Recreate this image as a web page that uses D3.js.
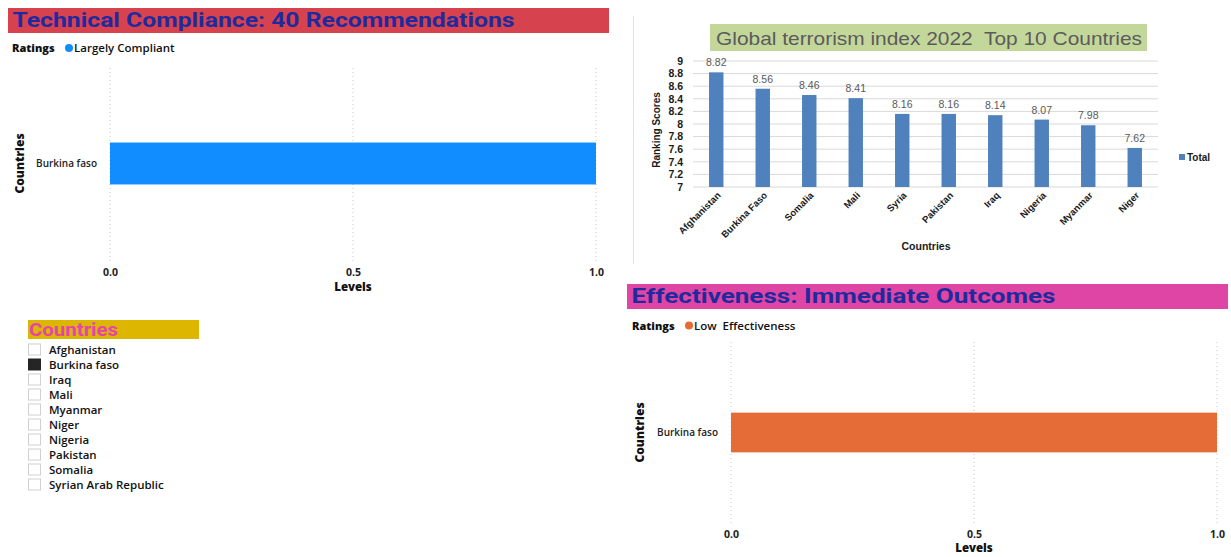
<!DOCTYPE html>
<html>
<head>
<meta charset="utf-8">
<script src="https://cdn.jsdelivr.net/npm/d3@7"></script>
<style>
  html, body { margin: 0; padding: 0; background: #fff; }
  svg { display: block; }
</style>
</head>
<body>
<svg id="chart" width="1231" height="557"></svg>
<script>
// ---------- DATA ----------
const gtiCountries = ["Afghanistan", "Burkina Faso", "Somalia", "Mali", "Syria", "Pakistan", "Iraq", "Nigeria", "Myanmar", "Niger"];
const gtiScores = [8.82, 8.56, 8.46, 8.41, 8.16, 8.16, 8.14, 8.07, 7.98, 7.62];
const gtiTicks = [7, 7.2, 7.4, 7.6, 7.8, 8, 8.2, 8.4, 8.6, 8.8, 9];

const tcCountries = ["Burkina faso"];
const tcLevels = [1];
const ioCountries = ["Burkina faso"];
const ioLevels = [1];
const levelTicks = [0, 0.5, 1];

const slicerCountries = ["Afghanistan", "Burkina faso", "Iraq", "Mali", "Myanmar", "Niger", "Nigeria", "Pakistan", "Somalia", "Syrian Arab Republic"];
const slicerSelected = ["Burkina faso"];

// ---------- DRAW ----------
const svg = d3.select("#chart");
const uiFont = "'Open Sans', 'Noto Sans', sans-serif";
const titleFont = "Roboto, 'Noto Sans', sans-serif";
const xlFont = "'Liberation Sans', 'DejaVu Sans', sans-serif";

function titleBar(x, y, w, h, fill, text, textLen) {
  svg.append("rect").attr("x", x).attr("y", y).attr("width", w).attr("height", h).attr("fill", fill);
  svg.append("text").attr("x", x + 4.5).attr("y", y + h - 6)
    .attr("font-family", titleFont).attr("font-weight", 700).attr("font-size", 21)
    .attr("fill", "#1f2a9e")
    .attr("textLength", textLen).attr("lengthAdjust", "spacingAndGlyphs")
    .text(text);
}

function ratingsLegend(x, y, color, label) {
  svg.append("text").attr("x", x).attr("y", y + 4)
    .attr("font-family", uiFont).attr("font-weight", 800).attr("font-size", 11)
    .attr("fill", "#111").text("Ratings");
  svg.append("circle").attr("cx", x + 57).attr("cy", y).attr("r", 4).attr("fill", color);
  svg.append("text").attr("x", x + 62).attr("y", y + 4)
    .attr("font-family", uiFont).attr("font-weight", 600).attr("font-size", 11.5)
    .attr("fill", "#111").style("white-space", "pre").text(label);
}

function levelBarChart(opts) {
  const { cats, vals, color, x0, x1, y0, y1, tickY, titleY, axisTitleX } = opts;
  const x = d3.scaleLinear().domain([0, 1]).range([x0, x1]);
  const y = d3.scaleBand().domain(cats).range([y0, y1]).paddingInner(0.64).paddingOuter(0.64);
  const g = svg.append("g");
  g.selectAll("line.grid").data(levelTicks).join("line")
    .attr("x1", d => x(d)).attr("x2", d => x(d))
    .attr("y1", y0).attr("y2", y1 + 3)
    .attr("stroke", "#c8c8c8").attr("stroke-width", 1).attr("stroke-dasharray", "1,3");
  g.selectAll("rect.bar").data(cats).join("rect")
    .attr("x", x(0)).attr("y", d => y(d))
    .attr("width", (d, i) => x(vals[i]) - x(0)).attr("height", y.bandwidth())
    .attr("fill", color);
  const xa = g.append("g").attr("transform", `translate(0,${tickY})`)
    .call(d3.axisBottom(x).tickValues(levelTicks).tickFormat(d3.format(".1f")).tickSize(0).tickPadding(0));
  xa.select(".domain").remove();
  xa.selectAll("text").attr("font-family", uiFont).attr("font-weight", 700)
    .attr("font-size", 10.5).attr("fill", "#222").attr("y", 0).attr("dy", "0.35em");
  const ya = g.append("g").attr("transform", `translate(${x0 - 10},0)`)
    .call(d3.axisLeft(y).tickSize(0));
  ya.select(".domain").remove();
  ya.selectAll("text").attr("font-family", uiFont).attr("font-weight", 600)
    .attr("font-size", 10).attr("fill", "#222");
  g.append("text").attr("x", (x0 + x1) / 2).attr("y", titleY)
    .attr("text-anchor", "middle").attr("font-family", uiFont).attr("font-weight", 800)
    .attr("font-size", 11.5).attr("fill", "#111").text("Levels");
  const cy = y(cats[0]) + y.bandwidth() / 2;
  g.append("text").attr("transform", `translate(${axisTitleX},${cy}) rotate(-90)`)
    .attr("text-anchor", "middle").attr("font-family", uiFont).attr("font-weight", 800)
    .attr("font-size", 12).attr("fill", "#111").text("Countries");
}

// ---- Panel 1: Technical Compliance ----
titleBar(8, 8, 601, 25, "#d6434f", "Technical Compliance: 40 Recommendations", 502);
ratingsLegend(12, 48, "#118dff", "Largely Compliant");
levelBarChart({ cats: tcCountries, vals: tcLevels, color: "#118dff",
  x0: 110, x1: 596, y0: 68, y1: 259, tickY: 272.5, titleY: 291, axisTitleX: 24 });

// ---- Panel 3: Effectiveness ----
titleBar(627, 284, 601, 25, "#df45a4", "Effectiveness: Immediate Outcomes", 424);
ratingsLegend(632, 325.5, "#e66c37", "Low  Effectiveness");
levelBarChart({ cats: ioCountries, vals: ioLevels, color: "#e66c37",
  x0: 731, x1: 1217, y0: 342, y1: 523, tickY: 534, titleY: 552, axisTitleX: 644 });

// ---- Slicer: Countries ----
svg.append("rect").attr("x", 28).attr("y", 320).attr("width", 171).attr("height", 19).attr("fill", "#dcb600");
svg.append("text").attr("x", 29).attr("y", 336)
  .attr("font-family", titleFont).attr("font-weight", 700).attr("font-size", 19)
  .attr("fill", "#e545a8")
  .attr("textLength", 89).attr("lengthAdjust", "spacingAndGlyphs").text("Countries");
const slY = d3.scaleBand().domain(slicerCountries).range([342, 492]);
const rows = svg.append("g").selectAll("g").data(slicerCountries).join("g")
  .attr("transform", d => `translate(0,${slY(d)})`);
rows.append("rect").attr("x", 28.5).attr("y", 2).attr("width", 12).attr("height", 11)
  .attr("fill", d => slicerSelected.includes(d) ? "#252525" : "#fff")
  .attr("stroke", d => slicerSelected.includes(d) ? "#252525" : "#d0d0d0").attr("stroke-width", 1);
rows.append("text").attr("x", 49).attr("y", 11.5)
  .attr("font-family", uiFont).attr("font-weight", 600).attr("font-size", 11.5)
  .attr("fill", "#111").text(d => d);

// ---- Panel 2: Global terrorism index (Excel-style picture) ----
svg.append("line").attr("x1", 633.5).attr("x2", 633.5).attr("y1", 16).attr("y2", 264)
  .attr("stroke", "#e3e3e3").attr("stroke-width", 1);
svg.append("rect").attr("x", 710).attr("y", 24).attr("width", 437).attr("height", 27).attr("fill", "#c4d79b");
svg.append("text").attr("x", 716).attr("y", 44.5)
  .attr("font-family", xlFont).attr("font-size", 19).attr("fill", "#5b5b5b")
  .attr("textLength", 426).attr("lengthAdjust", "spacingAndGlyphs")
  .style("white-space", "pre")
  .text("Global terrorism index 2022  Top 10 Countries");

const gx = d3.scaleBand().domain(gtiCountries).range([693, 1158]);
const gy = d3.scaleLinear().domain([7, 9]).range([187, 61]);
const gg = svg.append("g");
gg.selectAll("line.hg").data(gtiTicks).join("line")
  .attr("x1", 693).attr("x2", 1158).attr("y1", d => gy(d)).attr("y2", d => gy(d))
  .attr("stroke", "#d9d9d9").attr("stroke-width", 1);
const yAx = gg.append("g").attr("transform", "translate(686,0)")
  .call(d3.axisLeft(gy).tickValues(gtiTicks).tickFormat(d => String(+d.toFixed(1))).tickSize(0));
yAx.select(".domain").remove();
yAx.selectAll("text").attr("font-family", xlFont).attr("font-weight", 700)
  .attr("font-size", 10.5).attr("fill", "#1a1a1a");
const bw = gx.bandwidth() * 0.31;
gg.selectAll("rect.gb").data(gtiCountries).join("rect")
  .attr("x", d => gx(d) + gx.bandwidth() / 2 - bw / 2)
  .attr("y", (d, i) => gy(gtiScores[i]))
  .attr("width", bw).attr("height", (d, i) => gy(7) - gy(gtiScores[i]))
  .attr("fill", "#4f81bd");
gg.selectAll("text.lbl").data(gtiCountries).join("text")
  .attr("x", d => gx(d) + gx.bandwidth() / 2)
  .attr("y", (d, i) => gy(gtiScores[i]) - 6)
  .attr("text-anchor", "middle").attr("font-family", xlFont).attr("font-size", 10.5)
  .attr("fill", "#595959").text((d, i) => gtiScores[i].toFixed(2));
gg.selectAll("text.xl").data(gtiCountries).join("text")
  .attr("transform", d => `translate(${gx(d) + gx.bandwidth() / 2 + 5},${196}) rotate(-45)`)
  .attr("text-anchor", "end").attr("font-family", xlFont).attr("font-weight", 700)
  .attr("font-size", 9.5).attr("fill", "#1a1a1a").text(d => d);
gg.append("text").attr("x", 926).attr("y", 250).attr("text-anchor", "middle")
  .attr("font-family", xlFont).attr("font-weight", 700).attr("font-size", 10.5)
  .attr("fill", "#1a1a1a").text("Countries");
gg.append("text").attr("transform", "translate(660,130) rotate(-90)").attr("text-anchor", "middle")
  .attr("font-family", xlFont).attr("font-weight", 700).attr("font-size", 10)
  .attr("fill", "#1a1a1a").text("Ranking Scores");
gg.append("rect").attr("x", 1179).attr("y", 154).attr("width", 6).attr("height", 6).attr("fill", "#4f81bd");
gg.append("text").attr("x", 1187).attr("y", 160.5)
  .attr("font-family", xlFont).attr("font-weight", 700).attr("font-size", 10)
  .attr("fill", "#1a1a1a").text("Total");
</script>
</body>
</html>
